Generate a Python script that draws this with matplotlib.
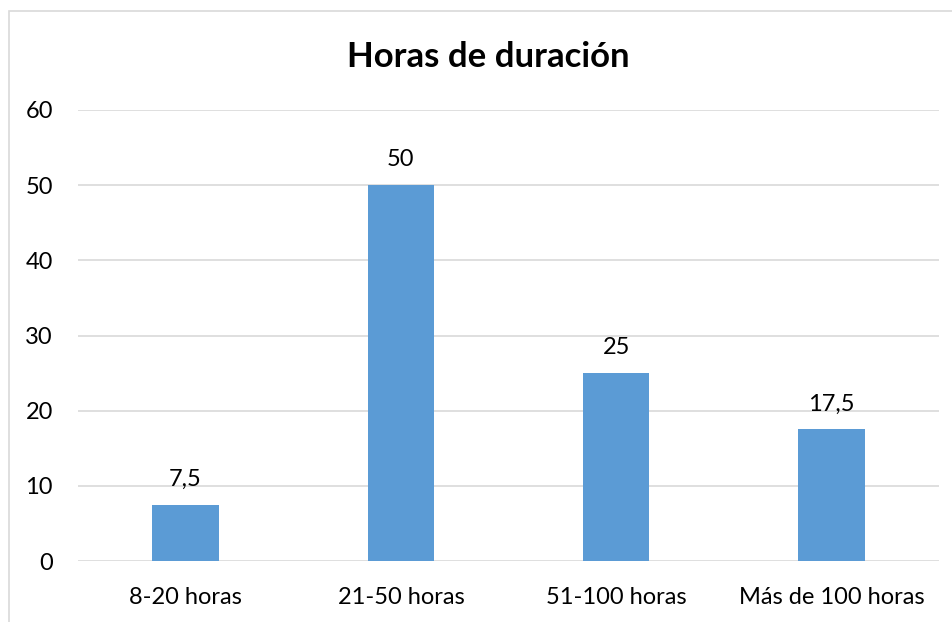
import matplotlib.pyplot as plt
from matplotlib.patches import Rectangle

categories = ['8-20 horas', '21-50 horas', '51-100 horas', 'Más de 100 horas']
values = [7.5, 50, 25, 17.5]
value_labels = ['7,5', '50', '25', '17,5']
yticks = [0, 10, 20, 30, 40, 50, 60]

bar_color = '#5B9BD5'
grid_color = '#D9D9D9'
text_color = '#000000'

plt.rcParams['font.family'] = ['Lato', 'DejaVu Sans']

W, H = 953, 622
fig = plt.figure(figsize=(W / 100, H / 100), dpi=100)

# chart frame (cut off at right and bottom in the reference)
fig.patches.append(Rectangle((9 / W, -0.1), 1.2, 1 - 11 / H + 0.1,
                             transform=fig.transFigure, fill=False,
                             edgecolor='#D9D9D9', linewidth=1.2))

ax = fig.add_axes([78 / W, 1 - 561 / H, (939 - 78) / W, (561 - 110) / H])
x = range(len(categories))
ax.bar(x, values, width=0.31, color=bar_color, zorder=3)
for xi, v, lab in zip(x, values, value_labels):
    ax.text(xi, v + 2.0, lab, ha='center', va='bottom', fontsize=17, color=text_color)

ax.set_xlim(-0.5, len(categories) - 0.5)
ax.set_ylim(0, 60)
ax.set_yticks(yticks)
ax.set_yticklabels([str(t) for t in yticks], fontsize=17)
ax.set_xticks(list(x))
ax.set_xticklabels(categories, fontsize=17)
ax.tick_params(length=0)
ax.tick_params(axis='x', pad=19)
ax.tick_params(axis='y', pad=18)
ax.yaxis.grid(True, color=grid_color, linewidth=1.2, zorder=0)
for s in ax.spines.values():
    s.set_visible(False)

fig.text(488 / W, 1 - 57 / H, 'Horas de duración', ha='center', va='center',
         fontsize=25, fontweight='bold', color=text_color)

fig.savefig('out.png', dpi=100)
